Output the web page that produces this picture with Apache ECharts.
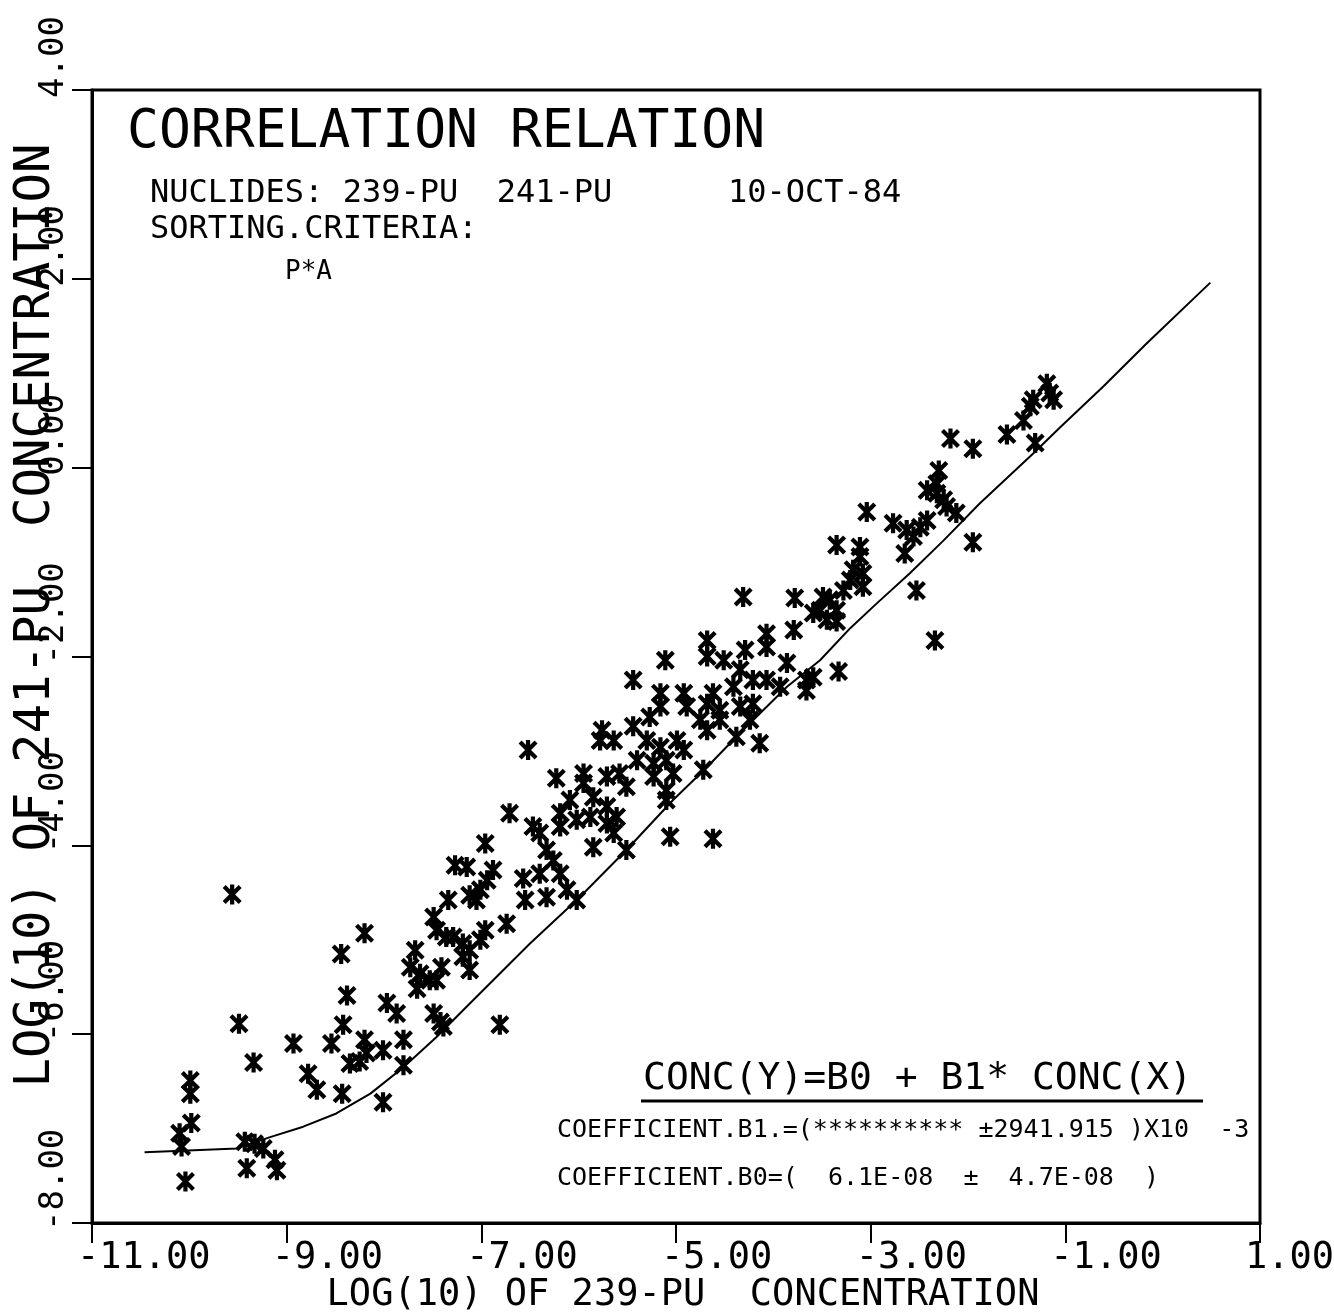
<!DOCTYPE html>
<html>
<head>
<meta charset="utf-8">
<script src="https://cdn.jsdelivr.net/npm/echarts@6/dist/echarts.min.js"></script>
<style>
  html, body { margin: 0; padding: 0; background: #fff; }
  #chart { width: 1334px; height: 1313px; }
</style>
</head>
<body>
<div id="chart"></div>
<script>
// ---------------- data ----------------
const X_MIN = -11, X_MAX = 1, X_STEP = 2;
const Y_MIN = -8, Y_MAX = 4, Y_STEP = 2;
const xTickLabels = ['-11.00', '-9.00', '-7.00', '-5.00', '-3.00', '-1.00', '1.00'];
const yTickLabels = ['-8.00', '-6.00', '-4.00', '-2.00', '0.00', '2.00', '4.00'];

const xAxisTitle = 'LOG(10) OF 239-PU  CONCENTRATION';
const yAxisTitle = 'LOG(10) OF 241-PU  CONCENTRATION';
const chartTitle = 'CORRELATION RELATION';
const headerLines = ['NUCLIDES: 239-PU  241-PU      10-OCT-84', 'SORTING.CRITERIA:'];
const criteriaText = 'P*A';
const equationText = 'CONC(Y)=B0 + B1* CONC(X)';
const coefLines = ['COEFFICIENT.B1.=(********** ±2941.915 )X10  -3',
                   'COEFFICIENT.B0=(  6.1E-08  ±  4.7E-08  )'];

// log10 of 239-Pu concentration (x) and 241-Pu concentration (y) for each sample
const sampleX = [
  -9.56,-8.20,-8.44,-8.38,-9.49,-9.34,-8.93,-9.99,-9.99,-9.98,-10.10,-10.08,-10.04,
  -9.43,-9.33,-9.24,-9.41,-9.12,-9.10,-8.78,-8.69,-8.43,-8.01,-8.54,-8.42,-8.20,
  -8.18,-8.25,-8.35,-8.01,-7.80,-7.80,-7.97,-7.87,-7.68,-7.73,-7.63,-7.53,-7.66,
  -7.41,-7.46,-7.49,-7.46,-7.36,-7.34,-7.27,-7.15,-6.96,-6.88,-6.94,-7.01,-7.05,
  -7.12,-6.57,-6.55,-6.74,-6.96,-7.01,-7.19,-7.12,-7.19,-7.12,-7.49,-7.42,-7.39,
  -6.81,-7.29,
  -4.07,-3.79,-4.68,-4.68,-5.11,-5.44,-4.51,-4.29,-4.07,-3.86,-4.34,-4.21,-4.07,
  -4.41,-4.62,-3.93,-3.66,-3.66,-5.16,-4.92,-4.89,-4.68,-4.55,-4.34,-4.21,-4.75,
  -4.55,-4.24,-4.68,-4.14,-4.38,-4.72,-5.76,-5.64,-5.78,-5.44,-5.27,-5.16,-5.30,
  -5.16,-4.99,-4.92,-5.40,-5.23,-5.10,-5.03,-5.23,-5.58,-5.71,-5.51,-5.10,-5.10,
  -6.52,-6.23,-5.95,-5.95,-6.09,-5.85,-5.71,-6.71,-6.19,-6.19,-6.02,-5.88,-5.71,
  -5.61,-6.47,-6.40,-5.85,-5.64,-5.51,-5.06,-4.62,-6.33,-6.26,-6.40,-6.19,-6.12,
  -6.02,-6.33,
  -3.18,-3.08,-3.21,-3.08,-3.28,-2.53,-2.34,-3.78,-3.49,-3.42,-3.52,-3.35,-3.59,
  -3.45,-3.35,-3.33,-3.59,
  -1.19,-1.16,-1.33,-1.12,-1.36,-1.43,-1.60,-1.31,-2.18,-1.95,-2.30,-2.32,-2.42,
  -2.32,-2.25,-2.22,-2.12,-3.04,-2.77,-2.63,-2.49,-2.42,-2.56,-1.95,-3.35,-3.11,
  -3.11,-2.65,-4.31
];
const sampleY = [
  -4.52,-4.93,-5.15,-5.59,-5.89,-6.30,-6.10,-6.49,-6.63,-6.94,-7.05,-7.19,-7.56,
  -7.14,-7.16,-7.21,-7.42,-7.33,-7.44,-6.42,-6.59,-6.63,-6.72,-6.10,-5.90,-6.06,
  -6.20,-6.29,-6.31,-6.17,-6.06,-6.33,-5.67,-5.78,-5.11,-5.29,-5.36,-5.43,-5.52,
  -5.29,-5.43,-4.76,-4.90,-4.97,-4.58,-4.21,-4.23,-3.98,-4.26,-4.37,-4.47,-4.58,
  -4.53,-4.35,-4.58,-4.83,-4.90,-5.00,-5.04,-5.11,-5.18,-5.32,-5.78,-5.87,-5.92,
  -5.90,-4.97,
  -1.76,-1.72,-1.83,-2.00,-2.04,-2.25,-2.04,-1.93,-1.90,-2.07,-2.14,-2.25,-2.25,
  -2.32,-2.39,-2.32,-2.25,-2.36,-2.39,-2.39,-2.53,-2.50,-2.57,-2.53,-2.50,-2.67,
  -2.67,-2.67,-2.78,-2.92,-2.85,-3.20,-2.78,-2.89,-2.89,-2.74,-2.64,-2.53,-2.89,
  -2.96,-2.89,-2.99,-3.10,-3.13,-3.10,-3.24,-3.27,-3.24,-3.27,-3.38,-3.42,-3.52,
  -2.99,-3.29,-3.24,-3.34,-3.52,-3.49,-3.59,-3.66,-3.66,-3.80,-3.73,-3.70,-3.77,
  -3.70,-3.80,-3.87,-4.02,-3.87,-4.05,-3.91,-3.93,-4.05,-4.16,-4.30,-4.30,-4.47,
  -4.58,-4.55,
  -1.08,-1.12,-1.19,-1.26,-1.30,-1.30,-1.83,-1.38,-1.37,-1.40,-1.51,-1.51,-1.54,
  -1.61,-1.63,-2.16,-2.22,
  0.89,0.79,0.72,0.72,0.65,0.50,0.35,0.26,0.31,0.20,-0.03,-0.17,-0.24,
  -0.27,-0.34,-0.41,-0.48,-0.47,-0.59,-0.66,-0.63,-0.56,-0.73,-0.79,-0.82,-0.84,
  -0.94,-0.91,-1.37
];

// regression curve
const fitX = [-10.46,-9.51,-9.17,-8.83,-8.49,-8.14,-7.80,-7.46,-7.19,-6.84,-6.50,-5.99,
              -5.51,-5.03,-4.68,-4.38,-3.86,-3.52,-3.21,-2.94,-2.60,-2.25,-1.88,-1.33,
              -1.05,-0.61,-0.16,0.49];
const fitY = [-7.25,-7.21,-7.09,-6.98,-6.84,-6.63,-6.35,-6.03,-5.75,-5.39,-5.04,-4.55,
              -4.05,-3.52,-3.17,-2.85,-2.32,-2.04,-1.70,-1.44,-1.12,-0.77,-0.38,0.15,
              0.43,0.86,1.32,1.96];

// ---------------- styling ----------------
const MONO = '"DejaVu Sans Mono", "Liberation Mono", monospace';
const XL_SIZE = 37, YL_SIZE = 34;
const XL_CW = XL_SIZE * 0.602, YL_CW = YL_SIZE * 0.602;
const XL_LEAD = 15, YL_LEAD = 8;   // label text starts this far before its tick

function padRich(cw, lead, size) {
  const r = { t: { fontFamily: MONO, fontSize: size, color: '#000' } };
  for (let n = 3; n <= 7; n++) {
    r['p' + n] = { width: Math.max(0, n * cw - 2 * lead), fontFamily: MONO, fontSize: size };
  }
  return r;
}

const ASTERISK = 'path://M-2.1,-10L2.1,-10L2.1,10L-2.1,10Z' +
  'M-6.5,-9.5L9.5,6.5L6.5,9.5L-9.5,-6.5Z' +
  'M6.5,-9.5L9.5,-6.5L-6.5,9.5L-9.5,6.5Z';

const chart = echarts.init(document.getElementById('chart'), null, { renderer: 'canvas' });

const option = {
  animation: false,
  backgroundColor: '#fff',
  grid: {
    left: 92, top: 90, width: 1168, height: 1133,
    show: true, borderColor: '#000', borderWidth: 3, backgroundColor: 'transparent',
    containLabel: false, outerBoundsMode: 'none'
  },
  xAxis: {
    type: 'value', min: X_MIN, max: X_MAX, interval: X_STEP,
    name: xAxisTitle, nameLocation: 'middle', nameGap: 72, nameMoveOverlap: false,
    nameTextStyle: { fontFamily: MONO, fontSize: 37, color: '#000',
                     verticalAlign: 'middle', padding: [0, 0, 0, 14] },
    axisLine: { show: true, onZero: false, lineStyle: { color: '#000', width: 3 } },
    axisTick: { show: true, inside: false, length: 20, lineStyle: { color: '#000', width: 2 } },
    splitLine: { show: false },
    axisLabel: {
      show: true, showMinLabel: true, showMaxLabel: true, hideOverlap: false,
      margin: 35, color: '#000', fontFamily: MONO, fontSize: XL_SIZE,
      align: 'center', verticalAlign: 'middle',
      formatter: function (v) {
        const s = xTickLabels[Math.round((v - X_MIN) / X_STEP)] || '';
        return '{p' + s.length + '|\u00a0}{t|' + s + '}';
      },
      rich: padRich(XL_CW, XL_LEAD, XL_SIZE)
    }
  },
  yAxis: {
    type: 'value', min: Y_MIN, max: Y_MAX, interval: Y_STEP,
    name: yAxisTitle, nameLocation: 'middle', nameGap: 56, nameRotate: 90, nameMoveOverlap: false,
    nameTextStyle: { fontFamily: MONO, fontSize: 49, color: '#000',
                     align: 'center', verticalAlign: 'middle', padding: [0, 0, 0, 82] },
    axisLine: { show: true, onZero: false, lineStyle: { color: '#000', width: 3 } },
    axisTick: { show: true, inside: false, length: 20, lineStyle: { color: '#000', width: 2 } },
    splitLine: { show: false },
    axisLabel: {
      show: true, showMinLabel: true, showMaxLabel: true, hideOverlap: false,
      rotate: 90, margin: 38, color: '#000', fontFamily: MONO, fontSize: YL_SIZE,
      align: 'center', verticalAlign: 'middle',
      formatter: function (v) {
        const s = yTickLabels[Math.round((v - Y_MIN) / Y_STEP)] || '';
        return '{p' + s.length + '|\u00a0}{t|' + s + '}';
      },
      rich: padRich(YL_CW, YL_LEAD, YL_SIZE)
    }
  },
  graphic: [
    { type: 'text', x: 127, y: 133, silent: true,
      style: { text: chartTitle, font: '53px ' + MONO, fill: '#000',
               textVerticalAlign: 'middle', verticalAlign: 'middle' } },
    { type: 'text', x: 150, y: 194, silent: true,
      style: { text: headerLines[0], font: '32px ' + MONO, fill: '#000',
               textVerticalAlign: 'middle', verticalAlign: 'middle' } },
    { type: 'text', x: 150, y: 230, silent: true,
      style: { text: headerLines[1], font: '32px ' + MONO, fill: '#000',
               textVerticalAlign: 'middle', verticalAlign: 'middle' } },
    { type: 'text', x: 285, y: 272, silent: true,
      style: { text: criteriaText, font: '26px ' + MONO, fill: '#000',
               textVerticalAlign: 'middle', verticalAlign: 'middle' } },
    { type: 'text', x: 643, y: 1079, silent: true,
      style: { text: equationText, font: '38px ' + MONO, fill: '#000',
               textVerticalAlign: 'middle', verticalAlign: 'middle' } },
    { type: 'line', silent: true,
      shape: { x1: 641, y1: 1101, x2: 1203, y2: 1101 },
      style: { stroke: '#000', lineWidth: 3 } },
    { type: 'text', x: 557, y: 1130, silent: true,
      style: { text: coefLines[0], font: '25px ' + MONO, fill: '#000',
               textVerticalAlign: 'middle', verticalAlign: 'middle' } },
    { type: 'text', x: 557, y: 1178, silent: true,
      style: { text: coefLines[1], font: '25px ' + MONO, fill: '#000',
               textVerticalAlign: 'middle', verticalAlign: 'middle' } }
  ],
  series: [
    {
      name: 'fit', type: 'line', silent: true, z: 2,
      data: fitX.map((x, i) => [x, fitY[i]]),
      symbol: 'none', showSymbol: false, smooth: false,
      lineStyle: { color: '#000', width: 2 }
    },
    {
      name: 'samples', type: 'scatter', z: 3,
      data: sampleX.map((x, i) => [x, sampleY[i]]),
      symbol: ASTERISK, symbolSize: 20, symbolKeepAspect: true,
      itemStyle: { color: '#000', opacity: 1 }
    }
  ]
};
chart.setOption(option);
</script>
</body>
</html>
